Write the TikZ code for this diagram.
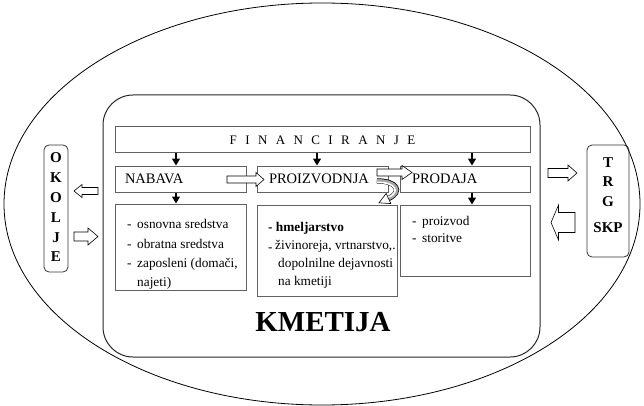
\documentclass[tikz,border=0pt]{standalone}
\usepackage{fontspec}
\setmainfont{Liberation Serif}
\usetikzlibrary{arrows.meta,calc}
\newcommand\fsrow{\fontsize{14.5}{17}\selectfont}
\newcommand\fsdet{\fontsize{13.3}{19.3}\selectfont}
\newcommand\itm{\makebox[10pt][l]{-}}
\begin{document}
\begin{tikzpicture}[x=1pt,y=-1pt,
  box/.style={draw=black!62, line width=1pt, rectangle, inner ysep=0pt},
  rowbox/.style={box, minimum height=26pt, align=left, font=\fsrow},
  detbox/.style={box, inner sep=0pt},
  sidebox/.style={draw=black!80, line width=0.8pt, rounded corners=5pt, inner sep=0pt},
  darr/.style={line width=1.4pt, -{Triangle[length=7pt,width=8pt]}},
  blk/.style={draw=black, line width=0.6pt, fill=white},
  dettext/.style={anchor=north west, inner sep=0pt, align=left, font=\fsdet}]
\useasboundingbox (0,0) rectangle (644,406);
% outer ellipse
\draw[line width=0.8pt] (322,204) ellipse [x radius=318, y radius=201];
% farm frame
\node[draw=black!85, line width=1pt, rounded corners=30pt, minimum width=437pt, minimum height=262pt] (kmet) at (321.5,226) {};
\node[anchor=base, font=\bfseries\fontsize{29}{32}\selectfont] (kmett) at (323,331) {KMETIJA};
% financing
\node[box, minimum width=415pt, minimum height=26pt, font=\fontsize{13}{15}\selectfont] (fin) at (322.5,140)
  {F\hspace{8.4pt}I\hspace{8.4pt}N\hspace{8.4pt}A\hspace{8.4pt}N\hspace{8.4pt}C\hspace{8.4pt}I\hspace{8.4pt}R\hspace{8.4pt}A\hspace{8.4pt}N\hspace{8.4pt}J\hspace{8.4pt}E};
% row boxes
\node[rowbox, text width=111pt, inner xsep=10pt] (nab) at (180.5,179) {NABAVA};
\node[rowbox, text width=107pt, inner xsep=12pt] (proz) at (322.5,179) {PROIZVODNJA};
\node[rowbox, text width=106pt, inner xsep=12pt] (prod) at (465,179) {PRODAJA};
% detail boxes
\node[detbox, minimum width=131pt, minimum height=86pt] (nabd) at (180.5,247) {};
\node[detbox, minimum width=140pt, minimum height=91pt] (prozd) at (327,250.5) {};
\node[detbox, minimum width=130pt, minimum height=71pt] (prodd) at (465,240.5) {};
\node[dettext] (nabt) at (127,219.5) {\itm osnovna sredstva\\ \itm obratna sredstva\\ \itm zaposleni (domači,\\ \hspace*{10pt}najeti)};
\node[dettext, font=\fontsize{13.3}{18}\selectfont] (prozt) at (268,222) {\textbf{- hmeljarstvo}\\ \makebox[7pt][l]{\raisebox{-2pt}{-}}živinoreja, vrtnarstvo,.\\ \hspace*{10pt}dopolnilne dejavnosti\\ \hspace*{10pt}na kmetiji};
\node[dettext, font=\fontsize{13.3}{17}\selectfont] (prodt) at (412,216) {\itm proizvod\\ \itm storitve};
% down arrows
\draw[darr] ($(nab.north |- fin.south)+(-4.5,0)$) -- ($(nab.north)+(-4.5,0)$);
\draw[darr] ($(proz.north |- fin.south)+(-5.5,0)$) -- ($(proz.north)+(-5.5,0)$);
\draw[darr] ($(prod.north |- fin.south)+(7,0)$) -- ($(prod.north)+(7,0)$);
\draw[darr] ($(nab.south)+(-4.5,0)$) -- ($(nab.south |- nabd.north)+(-4.5,0)$);
\draw[darr] ($(prod.south)+(7,0)$) -- ($(prod.south |- prodd.north)+(7,0)$);
% NABAVA -> PROIZVODNJA block arrow
\draw[blk] (227,176) -- (256,176) -- (256,172.5) -- (264,179.5) -- (256,186.5) -- (256,183) -- (227,183) -- cycle;
% PROIZVODNJA -> PRODAJA block arrow
\draw[blk] (377,169) -- (402,169) -- (402,165.5) -- (412,172.5) -- (402,179.5) -- (402,176) -- (377,176) -- cycle;
% curved return arrow
\draw[black, line width=5.2pt] (377,181) .. controls (397,180.5) and (403,192) .. (388.5,198.5);
\draw[black!35, line width=3.8pt] (376.5,181) .. controls (397,180.5) and (403,192) .. (388.5,198.5);
\draw[white, line width=1.6pt] (377,182.3) .. controls (395.5,182) and (401,192) .. (388,197.3);
\draw[blk] (390.8,203.6) -- (379,202.8) -- (386.2,193.4) -- cycle;
% side boxes
\node[sidebox, minimum width=24pt, minimum height=127pt] (okolje) at (56,208.5) {};
\node[align=center, inner sep=0pt, font=\bfseries\fontsize{15}{19.8}\selectfont] (okoljet) at (56,207.5) {O\\K\\O\\L\\J\\E};
\node[sidebox, minimum width=42pt, minimum height=112pt] (trg) at (608,201) {};
\node[align=center, inner sep=0pt, font=\bfseries\fontsize{15}{19.8}\selectfont] (trgt) at (608,195) {T\\R\\G\\[6pt]SKP};
% side block arrows
\draw[blk] (98,187.5) -- (82,187.5) -- (82,184.5) -- (74,191) -- (82,197.5) -- (82,194.5) -- (98,194.5) -- cycle;
\draw[blk] (74,232) -- (88,232) -- (88,228) -- (98,236.5) -- (88,245) -- (88,241) -- (74,241) -- cycle;
\draw[blk] (548,168.5) -- (568,168.5) -- (568,165) -- (577,173) -- (568,181) -- (568,177.5) -- (548,177.5) -- cycle;
\draw[blk] (575,212.5) -- (558.5,212.5) -- (558.5,205) -- (551,222.5) -- (558.5,240) -- (558.5,232.5) -- (575,232.5) -- cycle;
\end{tikzpicture}
\end{document}
